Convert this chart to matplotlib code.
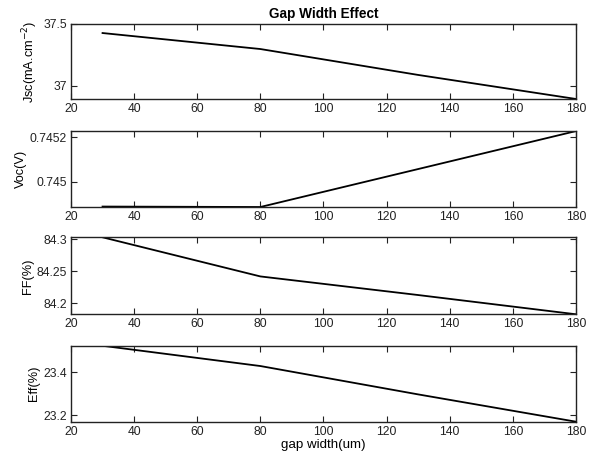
import matplotlib.pyplot as plt

plt.rcParams['font.family'] = ['Liberation Sans', 'DejaVu Sans']

# gap width (um)
gap = [30, 80, 130, 180]

# values
jsc = [37.427, 37.298, 37.089, 36.895]
voc = [0.74489, 0.744888, 0.745058, 0.745228]
ff = [84.303, 84.242, 84.213, 84.183]
eff = [23.525, 23.430, 23.297, 23.169]

ylims = [(36.895, 37.5), (0.744888, 0.745228), (84.183, 84.303), (23.169, 23.525)]
yticks = [[37, 37.5], [0.745, 0.7452], [84.2, 84.25, 84.3], [23.2, 23.4]]
ytick_labels = [["37", "37.5"], ["0.745", "0.7452"], ["84.2", "84.25", "84.3"], ["23.2", "23.4"]]
ylabels = ["Jsc(mA.cm$^{-2}$)", "Voc(V)", "FF(%)", "Eff(%)"]
xticks = [20, 40, 60, 80, 100, 120, 140, 160, 180]

series = [jsc, voc, ff, eff]

fig = plt.figure(figsize=(5.97, 4.63), dpi=100)

# axes boxes (left, bottom, width, height) in figure fraction
boxes = [
    (0.1189, 0.7862, 0.8459, 0.162),
    (0.1189, 0.5529, 0.8459, 0.164),
    (0.1189, 0.3212, 0.8459, 0.1663),
    (0.1189, 0.0892, 0.8459, 0.164),
]

for i in range(4):
    ax = fig.add_axes(boxes[i])
    ax.plot(gap, series[i], color="black", linewidth=1.3)
    ax.set_xlim(20, 180)
    ax.set_ylim(*ylims[i])
    ax.set_xticks(xticks)
    ax.set_yticks(yticks[i])
    ax.set_yticklabels(ytick_labels[i])
    ax.set_ylabel(ylabels[i], fontsize=9.2, labelpad=2)
    ax.tick_params(direction="in", top=True, right=True, length=4, width=0.8,
                   labelsize=8.7, pad=3, colors="#222222")
    for s in ax.spines.values():
        s.set_linewidth(1.0)
        s.set_color("#222222")
    if i == 0:
        ax.set_title("Gap Width Effect", fontsize=9.8, fontweight="bold", pad=4)
    if i == 3:
        ax.set_xlabel("gap width(um)", fontsize=9.6, labelpad=1)

fig.savefig("out.png", dpi=100)
